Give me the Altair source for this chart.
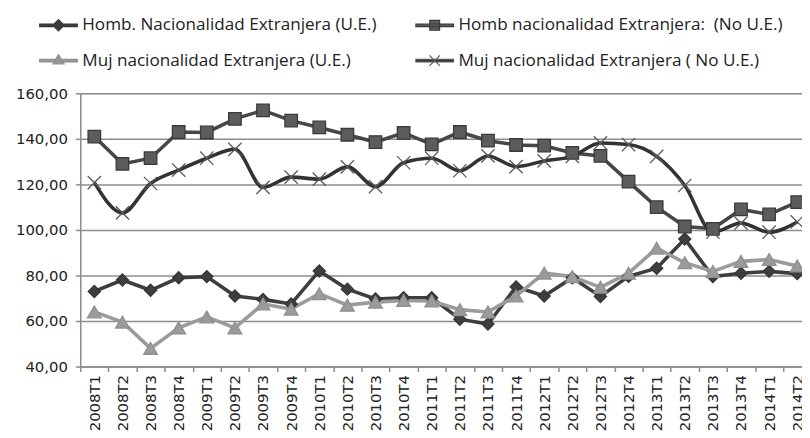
import altair as alt
import pandas as pd

categories = ["2008T1", "2008T2", "2008T3", "2008T4", "2009T1", "2009T2", "2009T3", "2009T4",
              "2010T1", "2010T2", "2010T3", "2010T4", "2011T1", "2011T2", "2011T3", "2011T4",
              "2012T1", "2012T2", "2012T3", "2012T4", "2013T1", "2013T2", "2013T3", "2013T4",
              "2014T1", "2014T2"]

series_names = ["Homb. Nacionalidad Extranjera (U.E.)",
                "Homb nacionalidad Extranjera:\u00a0 (No U.E.)",
                "Muj nacionalidad Extranjera (U.E.)",
                "Muj nacionalidad Extranjera ( No U.E.)"]

homb_ue = [73, 78, 73.5, 79, 79.5, 71, 69.5, 67.5, 82, 74, 69.7, 70.2, 70.2, 60.8, 58.7, 75,
           71, 79, 70.8, 79.6, 83.2, 96, 79.5, 81, 81.8, 80.8]
homb_noue = [141, 129, 131.5, 143, 142.8, 148.8, 152.5, 148, 145, 141.8, 138.6, 142.6, 137.6,
             143, 139.2, 137.3, 137, 133.8, 132.5, 121.2, 110, 101.5, 100.5, 109, 106.8, 112.2]
muj_ue = [64, 59.5, 48, 57, 61.8, 57, 67.5, 65.2, 72, 67, 68.3, 69, 68.8, 65, 64, 71,
          81, 79.5, 74.8, 81, 92, 85.6, 81.8, 86.2, 87, 84.2]
muj_noue = [120.8, 107.5, 120.4, 126.3, 131.5, 135.4, 118.7, 123.2, 122.3, 127.7, 119, 129.5,
            131.5, 126, 132.5, 127.8, 130.3, 132.3, 138.2, 137.5, 132.3, 119.5, 99, 103, 99, 103.5]

y_ticks = [40, 60, 80, 100, 120, 140, 160]

all_values = [homb_ue, homb_noue, muj_ue, muj_noue]
rows = []
for s, vals in zip(series_names, all_values):
    for c, v in zip(categories, vals):
        rows.append({"cat": c, "series": s, "value": v})
df = pd.DataFrame(rows)

line_colors = ["#3e3e3e", "#474747", "#9b9b9b", "#333333"]
stroke_colors = ["#363636", "#3a3a3a", "#8f8f8f", "#5a5a5a"]
fill_colors = ["#3e3e3e", "#5c5c5c", "#9b9b9b", "#333333"]
marker_shapes = ["diamond", "square", "triangle-up", "M-1,-1L1,1M1,-1L-1,1"]
marker_sizes = [150, 160, 190, 180]
interps = ["linear", "linear", "linear", "monotone"]

bar = "M-1,-0.07H1V0.07H-1Z"
legend_paths = [
    bar + "M0,-0.3L0.3,0L0,0.3L-0.3,0Z",
    bar + "M-0.26,-0.26H0.26V0.26H-0.26Z",
    bar + "M0,-0.32L0.3,0.18H-0.3Z",
    bar + "M-0.28,-0.28L0.28,0.28M0.28,-0.28L-0.28,0.28",
]

x_enc = alt.X("cat:N", sort=categories, bandPosition=0.5, title=None,
              scale=alt.Scale(type="band", paddingInner=0, paddingOuter=0, range=[0, 738.4]),
              axis=alt.Axis(labelAngle=-90, labelFont="DejaVu Sans", labelFontSize=15,
                            labelColor="#222222", labelPadding=3, tickSize=5, tickBand="extent",
                            tickColor="#8c8c8c", domainColor="#8c8c8c", domainWidth=1.5,
                            tickWidth=1.5, grid=False))
y_enc = alt.Y("value:Q", title=None,
              scale=alt.Scale(domain=[40, 160], nice=False, zero=False),
              axis=alt.Axis(values=y_ticks, labelExpr="replace(format(datum.value, '.2f'), '.', ',')",
                            labelFont="DejaVu Sans", labelFontSize=15, labelColor="#222222",
                            labelPadding=8, tickSize=5, tickColor="#8c8c8c", tickWidth=1.5,
                            domainColor="#8c8c8c", domainWidth=1.5,
                            grid=True, gridColor="#8c8c8c", gridWidth=1.5))

base = alt.Chart(df)
layers = []
for i, s in enumerate(series_names):
    layers.append(base.transform_filter(alt.datum.series == s).mark_line(
        strokeWidth=3.6, color=line_colors[i], interpolate=interps[i]).encode(x=x_enc, y=y_enc))
for i, s in enumerate(series_names):
    layers.append(base.transform_filter(alt.datum.series == s).mark_point(
        filled=True, shape=marker_shapes[i], size=marker_sizes[i], fill=fill_colors[i],
        stroke=stroke_colors[i], strokeWidth=1.3, opacity=1).encode(x=x_enc, y=y_enc))

legend = alt.Legend(
    orient="none", legendX=-42, legendY=-89, columns=2, columnPadding=36, rowPadding=7,
    direction="horizontal",
    labelFont="Open Sans", labelFontSize=17.3, labelColor="#222222", labelLimit=600,
    labelOffset=4, symbolSize=1444, symbolStrokeWidth=1.2, symbolOpacity=1,
)

legend_layer = base.transform_filter(alt.datum.cat == categories[0]).mark_point(
    filled=True, size=0).encode(
    x=x_enc, y=y_enc,
    fill=alt.Fill("series:N", title=None, sort=series_names,
                  scale=alt.Scale(domain=series_names, range=fill_colors), legend=legend),
    stroke=alt.Stroke("series:N", title=None, sort=series_names,
                      scale=alt.Scale(domain=series_names, range=stroke_colors), legend=legend),
    shape=alt.Shape("series:N", title=None, sort=series_names,
                    scale=alt.Scale(domain=series_names, range=legend_paths), legend=legend),
)
layers.append(legend_layer)

chart = alt.layer(*layers).properties(
    width=729, height=276,
    autosize=alt.AutoSizeParams(type="none"),
    padding={"left": 73, "top": 84, "right": 0, "bottom": 70},
).configure_view(stroke=None).configure(background="white")

chart.save("out.html", embed_options={"renderer": "svg", "actions": False})
